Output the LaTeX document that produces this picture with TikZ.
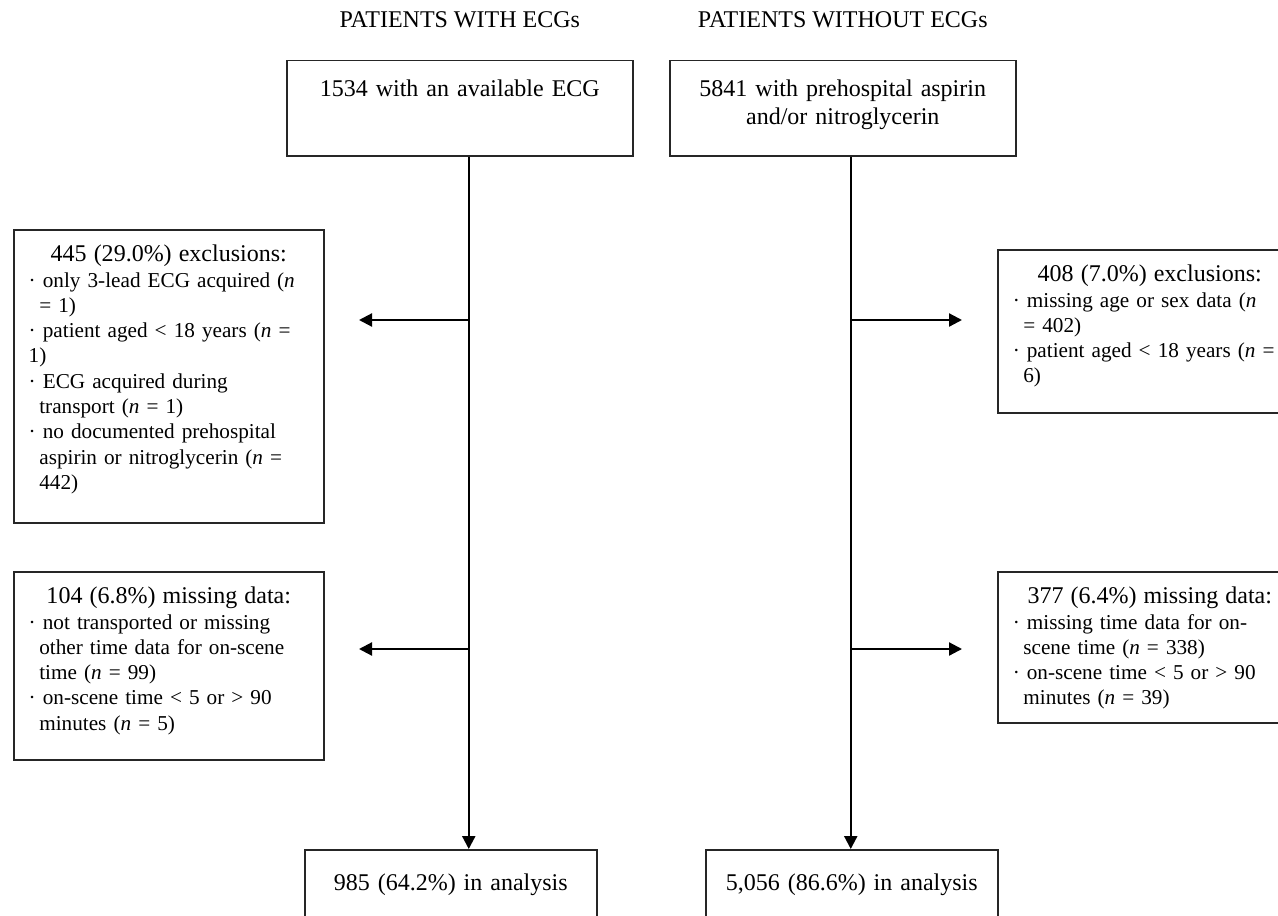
\documentclass[tikz,border=0pt]{standalone}
\usepackage{fontspec}
\setmainfont{Liberation Serif}
\usetikzlibrary{positioning,arrows.meta}
\newcommand{\nv}{\textit{n}}
\newcommand{\ind}{\hspace*{5.3pt}}
\newcommand{\hd}[1]{\makebox[\linewidth]{\fontsize{12}{12.65}\selectfont #1}}
\begin{document}
\begin{tikzpicture}[x=0.5pt,y=-0.5pt,
    startbox/.style={draw=black!85,line width=0.75pt,inner xsep=5pt,inner ysep=0pt,
      text width=163pt,align=center,text height=18pt,text depth=29.5pt,
      font=\fontsize{12}{13.8}\selectfont,anchor=north west},
    sidebox/.style={draw=black!85,line width=0.75pt,inner xsep=7.5pt,inner ysep=0pt,
      align=left,text height=16pt,font=\fontsize{10.6}{12.65}\selectfont,anchor=north west},
    endbox/.style={draw=black!85,line width=0.75pt,inner xsep=5pt,inner ysep=0pt,
      text width=136pt,align=center,text height=20.5pt,text depth=40pt,
      font=\fontsize{12}{13.8}\selectfont,anchor=north west},
    head/.style={inner sep=0pt,font=\fontsize{12}{13.8}\selectfont},
    arr/.style={line width=1.1pt,-{Triangle[length=6.5pt,width=6.5pt]}}]
  \path[use as bounding box,clip] (0,0) rectangle (1278,915);
  \node[startbox] (ecg) at (286,60) {1534 with an available ECG};
  \node[startbox] (noecg) at (669,60) {5841 with prehospital aspirin\\and/or nitroglycerin};
  \node[head,above=16pt of ecg] (t1) {PATIENTS WITH ECGs};
  \node[head,above=16pt of noecg] (t2) {PATIENTS WITHOUT ECGs};
  \node[sidebox,text width=140pt,text depth=130.5pt] (ex1) at (13,229) {\hd{445 (29.0\%) exclusions:}\\
    · only 3-lead ECG acquired (\nv\\
    \ind= 1)\\
    · patient aged < 18 years (\nv\ =\\
    1)\\
    · ECG acquired during\\
    \ind transport (\nv\ = 1)\\
    · no documented prehospital\\
    \ind aspirin or nitroglycerin (\nv\ =\\
    \ind 442)};
  \node[sidebox,text width=137pt,text depth=65.5pt] (ex2) at (997,249) {\hd{408 (7.0\%) exclusions:}\\
    · missing age or sex data (\nv\\
    \ind= 402)\\
    · patient aged < 18 years (\nv\ =\\
    \ind 6)};
  \node[sidebox,text width=140pt,text depth=78pt] (miss1) at (13,571) {\hd{104 (6.8\%) missing data:}\\
    · not transported or missing\\
    \ind other time data for on-scene\\
    \ind time (\nv\ = 99)\\
    · on-scene time < 5 or > 90\\
    \ind minutes (\nv\ = 5)};
  \node[sidebox,text width=137pt,text depth=59.5pt] (miss2) at (997,571) {\hd{377 (6.4\%) missing data:}\\
    · missing time data for on-\\
    \ind scene time (\nv\ = 338)\\
    · on-scene time < 5 or > 90\\
    \ind minutes (\nv\ = 39)};
  \node[endbox] (res1) at (304,849) {985 (64.2\%) in analysis};
  \node[endbox] (res2) at (705,849) {5,056 (86.6\%) in analysis};
  \coordinate (s1) at ([xshift=4.5pt]ecg.south);
  \coordinate (s2) at ([xshift=4pt]noecg.south);
  \coordinate (e1) at (359,320);
  \coordinate (e2) at (962,320);
  \coordinate (m1) at (359,649);
  \coordinate (m2) at (962,649);
  \draw[arr] (s1) -- (s1 |- res1.north);
  \draw[arr] (s2) -- (s2 |- res2.north);
  \draw[arr] (s1 |- e1) -- (e1);
  \draw[arr] (s1 |- m1) -- (m1);
  \draw[arr] (s2 |- e2) -- (e2);
  \draw[arr] (s2 |- m2) -- (m2);
\end{tikzpicture}
\end{document}
